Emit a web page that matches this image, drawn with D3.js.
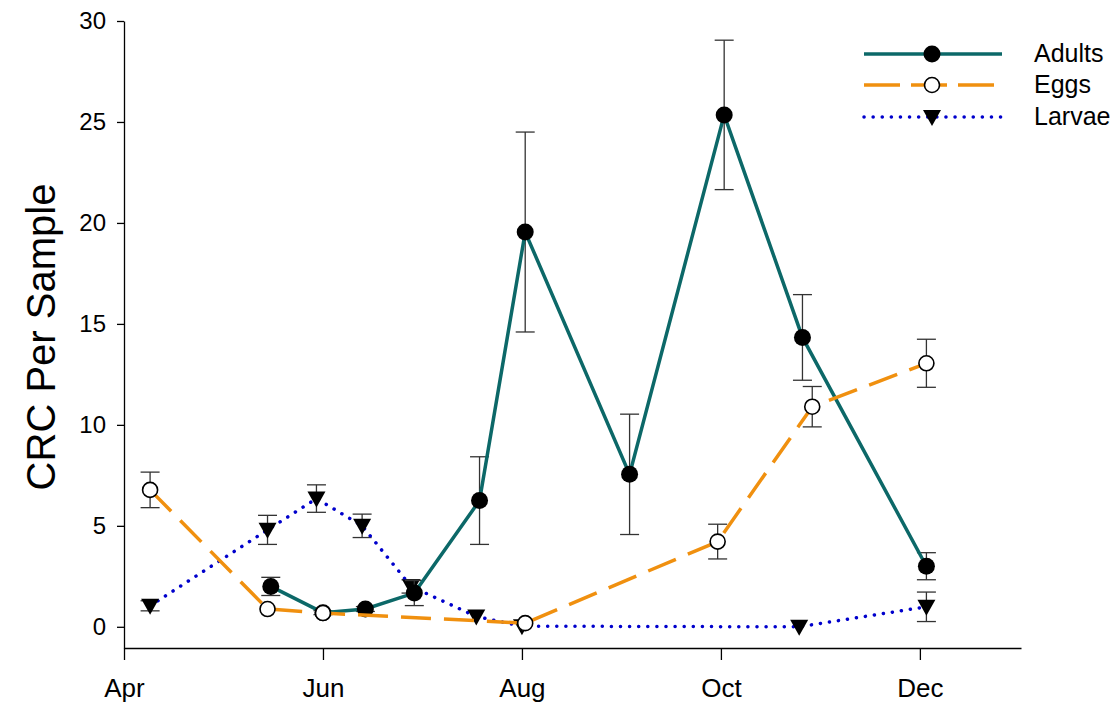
<!DOCTYPE html>
<html>
<head>
<meta charset="utf-8">
<script src="https://cdn.jsdelivr.net/npm/d3@7"></script>
<style>
  html, body { margin: 0; padding: 0; background: #fff; }
  svg { display: block; font-family: "Liberation Sans", Arial, sans-serif; }
</style>
</head>
<body>
<svg id="chart" width="1111" height="703"></svg>
<script>
// ---------- data ----------
const adultDates  = ["2019-05-16","2019-06-01","2019-06-14","2019-06-29","2019-07-19","2019-08-02","2019-09-03","2019-10-02","2019-10-26","2019-12-03"];
const adultValues = [2.0, 0.7, 0.88, 1.67, 6.25, 19.55, 7.55, 25.35, 14.33, 3.0];
const adultErrors = [0.45, 0.1, 0.12, 0.62, 2.17, 4.95, 2.98, 3.7, 2.12, 0.67];

const eggDates  = ["2019-04-09","2019-05-15","2019-06-01","2019-08-02","2019-09-30","2019-10-29","2019-12-03"];
const eggValues = [6.78, 0.88, 0.68, 0.18, 4.22, 10.9, 13.05];
const eggErrors = [0.88, 0.0, 0.0, 0.0, 0.86, 1.0, 1.19];

const larvaeDates  = ["2019-04-09","2019-05-15","2019-05-30","2019-06-13","2019-06-28","2019-07-18","2019-08-01","2019-10-25","2019-12-03"];
const larvaeValues = [1.04, 4.8, 6.35, 5.0, 2.0, 0.51, 0.03, 0.0, 0.99];
const larvaeErrors = [0.25, 0.72, 0.68, 0.58, 0.33, 0.0, 0.0, 0.0, 0.73];

const xTickDates  = ["2019-04-01","2019-06-01","2019-08-01","2019-10-01","2019-12-01"];
const xTickLabels = ["Apr","Jun","Aug","Oct","Dec"];
const yTickValues = [0, 5, 10, 15, 20, 25, 30];
const seriesNames = ["Adults","Eggs","Larvae"];
const yLabel = "CRC Per Sample";

// ---------- setup ----------
const parse = d3.timeParse("%Y-%m-%d");
const svg = d3.select("#chart");
const FONT = "'Liberation Sans', Arial, sans-serif";

const x = d3.scaleTime()
  .domain([parse("2019-04-01"), parse("2020-01-01")])
  .range([124, 1021]);
const y = d3.scaleLinear()
  .domain([-1.05, 30])
  .range([648, 21]);

const colors = { Adults: "#0c6868", Eggs: "#f0900f", Larvae: "#0000cc" };

function build(dates, values, errors) {
  return dates.map((d, i) => ({ date: parse(d), v: values[i], e: errors[i] }));
}
const adults = build(adultDates, adultValues, adultErrors);
const eggs   = build(eggDates, eggValues, eggErrors);
const larvae = build(larvaeDates, larvaeValues, larvaeErrors);

// ---------- axes ----------
const xTicks = xTickDates.map(parse);
const xAxis = d3.axisBottom(x)
  .tickValues(xTicks)
  .tickFormat((d, i) => xTickLabels[i])
  .tickSize(12)
  .tickSizeOuter(0)
  .tickPadding(19);
const gx = svg.append("g").attr("transform", "translate(0,648)").call(xAxis);
gx.selectAll("path, line").attr("stroke", "#000").attr("stroke-width", 1.3);
gx.selectAll("text").attr("font-size", 26).attr("fill", "#000").attr("font-family", FONT);

const yAxis = d3.axisLeft(y)
  .tickValues(yTickValues)
  .tickSize(7)
  .tickSizeOuter(0)
  .tickPadding(11);
const gy = svg.append("g").attr("transform", "translate(124,0)").call(yAxis);
gy.selectAll("path, line").attr("stroke", "#000").attr("stroke-width", 1.3);
gy.selectAll("text").attr("font-size", 24).attr("fill", "#000").attr("font-family", FONT);

svg.append("text")
  .attr("transform", "translate(55,337) rotate(-90)")
  .attr("text-anchor", "middle")
  .attr("font-size", 40)
  .attr("fill", "#000")
  .attr("font-family", FONT)
  .text(yLabel);

// ---------- helpers ----------
const line = d3.line().x(d => x(d.date)).y(d => y(d.v));

function errorBars(data) {
  const g = svg.append("g").attr("stroke", "#333").attr("stroke-width", 1.3);
  data.filter(d => d.e > 0).forEach(d => {
    const cx = x(d.date);
    g.append("line").attr("x1", cx).attr("x2", cx).attr("y1", y(d.v + d.e)).attr("y2", y(d.v - d.e));
    g.append("line").attr("x1", cx - 9.5).attr("x2", cx + 9.5).attr("y1", y(d.v + d.e)).attr("y2", y(d.v + d.e));
    g.append("line").attr("x1", cx - 9.5).attr("x2", cx + 9.5).attr("y1", y(d.v - d.e)).attr("y2", y(d.v - d.e));
  });
}

const triPath = "M-9,-7L9,-7L0,9Z";

function drawMarker(g, name, cx, cy) {
  if (name === "Adults") {
    g.append("circle").attr("cx", cx).attr("cy", cy).attr("r", 8.5).attr("fill", "#000");
  } else if (name === "Eggs") {
    g.append("circle").attr("cx", cx).attr("cy", cy).attr("r", 7.5)
      .attr("fill", "#fff").attr("stroke", "#000").attr("stroke-width", 1.6);
  } else {
    g.append("path").attr("d", triPath).attr("transform", `translate(${cx},${cy})`).attr("fill", "#000");
  }
}

const dash = { Adults: null, Eggs: "30,13", Larvae: "0.1,9" };
const widths = { Adults: 3.5, Eggs: 3.5, Larvae: 3.5 };

function series(name, data) {
  errorBars(data);
  const p = svg.append("path").datum(data)
    .attr("fill", "none")
    .attr("stroke", colors[name])
    .attr("stroke-width", widths[name])
    .attr("d", line);
  if (dash[name]) p.attr("stroke-dasharray", dash[name]);
  if (name === "Larvae") p.attr("stroke-linecap", "round");
  const g = svg.append("g");
  data.forEach(d => drawMarker(g, name, x(d.date), y(d.v)));
}

series("Larvae", larvae);
series("Adults", adults);
series("Eggs", eggs);

// ---------- legend ----------
const legendY = [54, 85, 117];
const leg = svg.append("g");
seriesNames.forEach((name, i) => {
  const ly = legendY[i];
  const l = leg.append("line")
    .attr("x1", 864).attr("x2", 1002).attr("y1", ly).attr("y2", ly)
    .attr("stroke", colors[name]).attr("stroke-width", 3.5);
  if (name === "Eggs") l.attr("stroke-dasharray", "36,11");
  if (name === "Larvae") l.attr("stroke-dasharray", "0.1,9").attr("stroke-linecap", "round");
  drawMarker(leg, name, 932, ly);
  leg.append("text").attr("x", 1034).attr("y", ly + 8)
    .attr("font-size", 25).attr("fill", "#000").attr("font-family", FONT).text(name);
});
</script>
</body>
</html>
